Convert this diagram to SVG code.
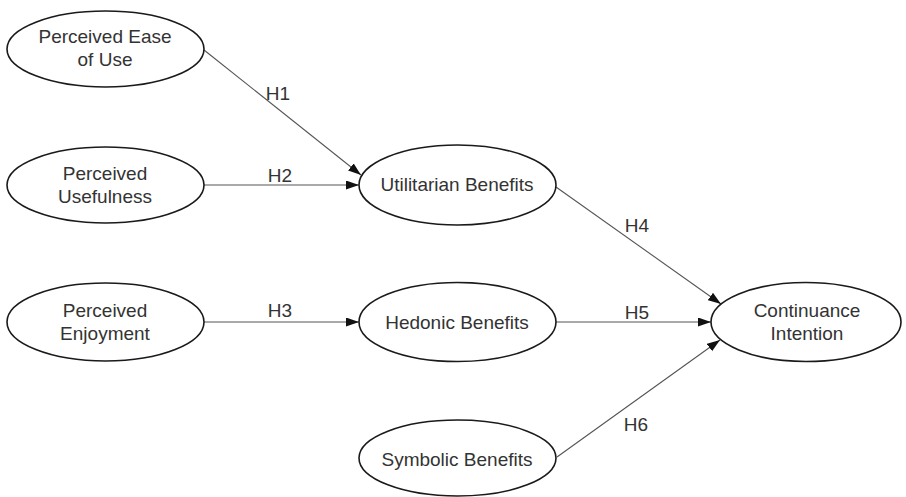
<svg xmlns="http://www.w3.org/2000/svg" width="906" height="497" viewBox="0 0 906 497">
<style>
.node ellipse{fill:#fff;stroke:#1a1a1a;stroke-width:1.6}
text{font-family:"Liberation Sans",Arial,sans-serif;font-size:19px;fill:#333;text-anchor:middle}
.edge line{stroke:#555;stroke-width:1.1;marker-end:url(#arr)}
</style>
<defs>
<marker id="arr" markerUnits="userSpaceOnUse" markerWidth="14" markerHeight="10" refX="13" refY="4.5" orient="auto">
<path d="M0,0 L13,4.5 L0,9 z" fill="#111"/>
</marker>
</defs>
<rect width="906" height="497" fill="#fff"/>
<g id="connectors" class="edge">
<line x1="204" y1="50" x2="361" y2="175"/>
<line x1="204" y1="185" x2="359" y2="185"/>
<line x1="204" y1="322" x2="359" y2="322"/>
<line x1="556" y1="187" x2="721" y2="304"/>
<line x1="556" y1="322" x2="711" y2="322"/>
<line x1="557" y1="457" x2="720" y2="340"/>
<text x="278" y="100">H1</text>
<text x="280" y="182">H2</text>
<text x="280" y="317">H3</text>
<text x="637" y="232">H4</text>
<text x="637" y="319">H5</text>
<text x="636" y="431">H6</text>
</g>
<g id="peou" class="node">
<ellipse cx="105.5" cy="49" rx="98.5" ry="38"/>
<text x="105" y="43">Perceived Ease</text>
<text x="105" y="66">of Use</text>
</g>
<g id="pu" class="node">
<ellipse cx="105.5" cy="185" rx="98.5" ry="38"/>
<text x="105" y="180">Perceived</text>
<text x="105" y="203">Usefulness</text>
</g>
<g id="pe" class="node">
<ellipse cx="105.5" cy="322" rx="98.5" ry="39"/>
<text x="105" y="317">Perceived</text>
<text x="105" y="340">Enjoyment</text>
</g>
<g id="ub" class="node">
<ellipse cx="457.5" cy="185" rx="98.5" ry="40"/>
<text x="457" y="191">Utilitarian Benefits</text>
</g>
<g id="hb" class="node">
<ellipse cx="457.5" cy="322" rx="98.5" ry="39.5"/>
<text x="457" y="329">Hedonic Benefits</text>
</g>
<g id="sb" class="node">
<ellipse cx="457.5" cy="458" rx="98.5" ry="38"/>
<text x="457" y="466">Symbolic Benefits</text>
</g>
<g id="ci" class="node">
<ellipse cx="806" cy="322" rx="95" ry="39.5"/>
<text x="807" y="317">Continuance</text>
<text x="807" y="340">Intention</text>
</g>
</svg>
